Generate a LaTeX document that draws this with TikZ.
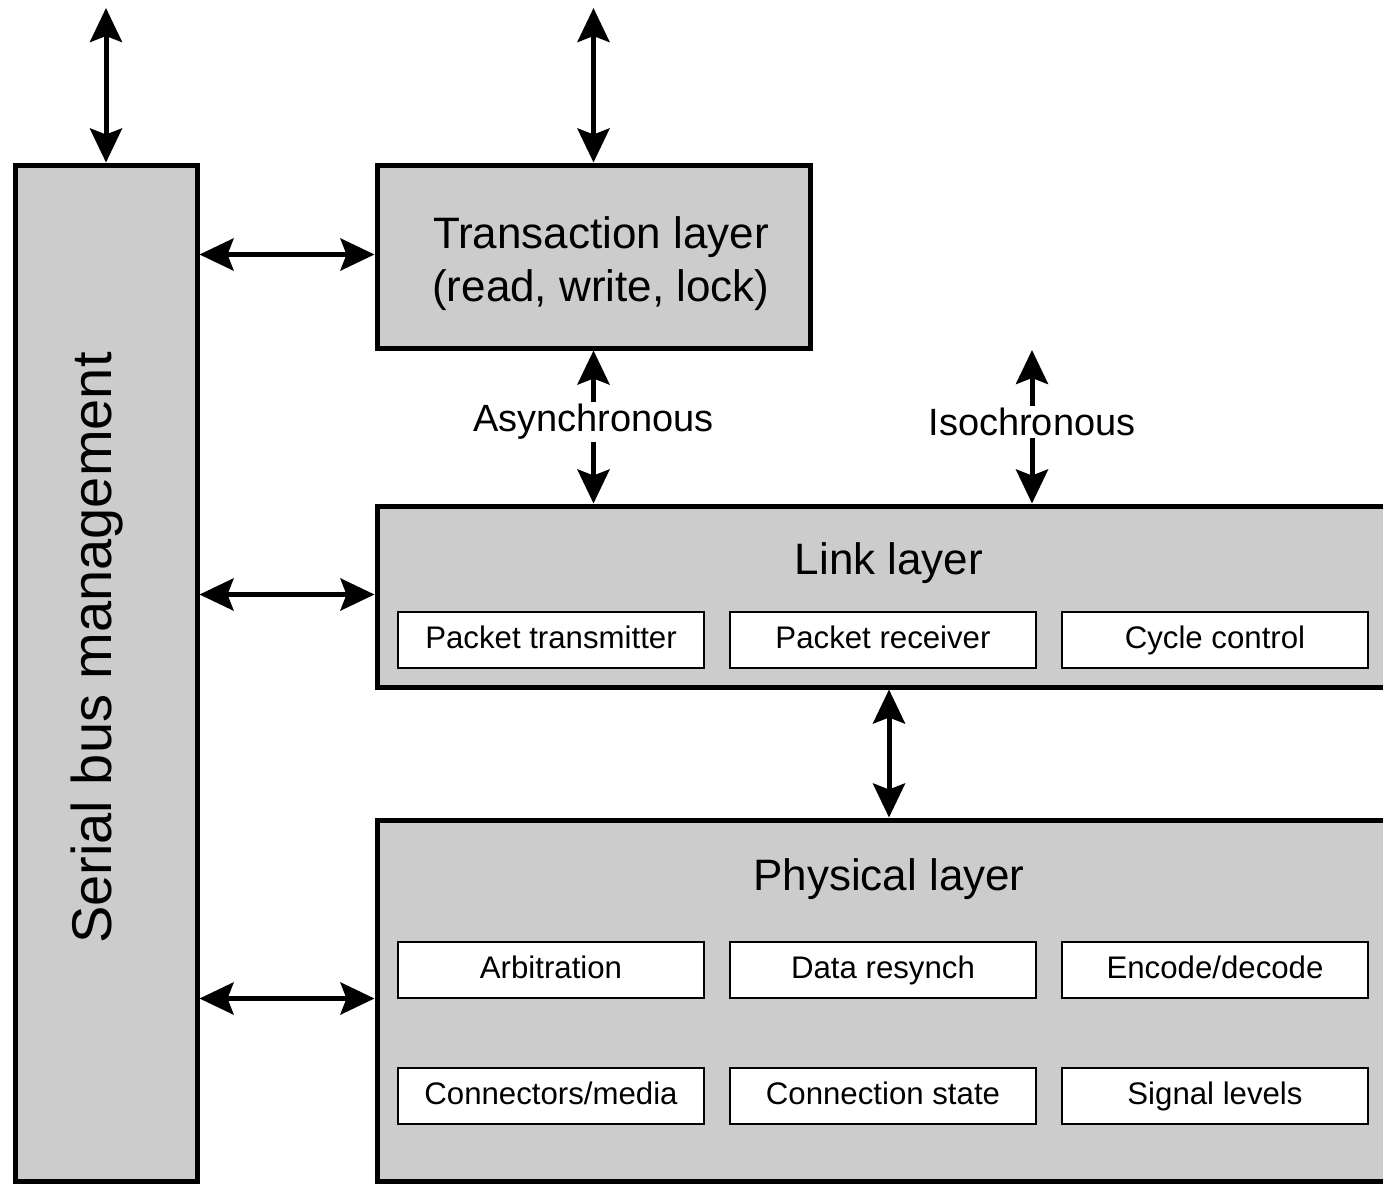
\documentclass[tikz,border=0pt]{standalone}
\usepackage{fontspec}
\setmainfont{Liberation Sans}
\usetikzlibrary{arrows.meta,positioning}

\definecolor{boxgray}{HTML}{CCCCCC}

\tikzset{
	layerbox/.style={draw, line width=2.5pt, fill=boxgray, inner sep=0pt},
	subbox/.style={draw, line width=1pt, fill=white, inner sep=0pt,
		text height=11.5pt, text depth=3pt,
		minimum width=153pt, minimum height=28pt, font=\fontsize{15.6}{18}\selectfont},
	title/.style={font=\fontsize{22}{26.5}\selectfont, align=center, inner sep=0pt},
	flowlbl/.style={fill=white, inner sep=1pt, font=\fontsize{19}{22}\selectfont},
	biarrow/.style={line width=2.5pt, {Stealth[length=17pt,width=16pt,inset=3pt]}-{Stealth[length=17pt,width=16pt,inset=3pt]}},
	onearrow/.style={line width=2.5pt, -{Stealth[length=17pt,width=16pt,inset=3pt]}}
}

\begin{document}
\begin{tikzpicture}[x=0.5pt, y=-0.5pt]
		\clip (0,0) rectangle (1383,1184);

		% Layer boxes
		\node[layerbox, minimum width=91pt, minimum height=508pt] (sbm) at (106,673) {};
		\node[layerbox, minimum width=216.5pt, minimum height=91.5pt] (trans) at (593.5,256.5) {};
		\node[layerbox, minimum width=512pt, minimum height=90.5pt] (link) at (889,596.5) {};
		\node[layerbox, minimum width=512pt, minimum height=180.5pt] (phys) at (889,1000.5) {};

		% Titles
		\node[title, font=\fontsize{28}{32}\selectfont, rotate=90] (sbmtitle) at (97,648) {Serial bus management};
		\node[title] (transtitle) at (601,264) {Transaction layer\\(read, write, lock)};
		\node[title] (linktitle) at (889,563) {Link layer};
		\node[title] (phystitle) at (889,879) {Physical layer};

		% Link layer blocks
		\node[subbox] (ptx) at (551,640) {Packet transmitter};
		\node[subbox] (prx) at (883,640) {Packet receiver};
		\node[subbox] (cyc) at (1215,640) {Cycle control};

		% Physical layer blocks
		\node[subbox] (arb) at (551,970) {Arbitration};
		\node[subbox] (resync) at (883,970) {Data resynch};
		\node[subbox] (enc) at (1215,970) {Encode/decode};
		\node[subbox] (conn) at (551,1096) {Connectors/media};
		\node[subbox] (cstate) at (883,1096) {Connection state};
		\node[subbox] (sig) at (1215,1096) {Signal levels};

		% Free ends
		\coordinate (sbmtop) at (106,8);
		\coordinate (transtop) at (593.5,8);
		\coordinate (isotop) at (1032,350);

		% Arrows
		\draw[biarrow] (sbmtop) -- (sbm.north);
		\draw[biarrow] (transtop) -- (trans.north);
		\draw[biarrow] ([yshift=1pt]sbm.east |- trans.west) -- ([yshift=1pt]trans.west);
		\draw[biarrow] ([yshift=1pt]sbm.east |- link.west) -- ([yshift=1pt]link.west);
		\draw[biarrow] ([yshift=1pt]sbm.east |- phys.west) -- ([yshift=1pt]phys.west);
		\draw[biarrow] (link.south) -- (phys.north);

		% Async and iso paths
		\node[flowlbl] (async) at (593.5,422) {Asynchronous};
		\node[flowlbl] (iso) at (1032,422) {Isochronous};
		\draw[onearrow] (async) -- (trans.south);
		\draw[onearrow] (async) -- (async |- link.north);
		\draw[onearrow] (iso) -- (isotop);
		\draw[onearrow] (iso) -- (iso |- link.north);
	\end{tikzpicture}
\end{document}
